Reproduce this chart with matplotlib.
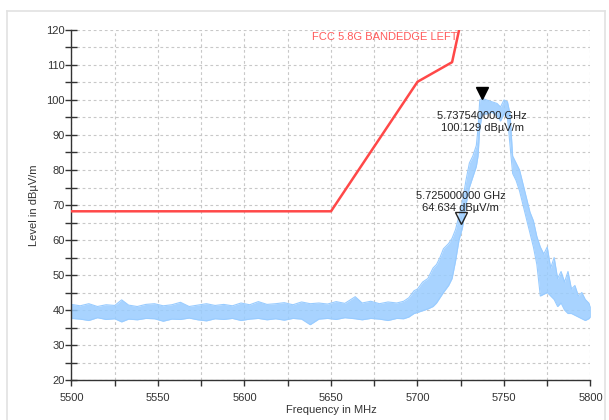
import numpy as np
import matplotlib.pyplot as plt
from matplotlib.lines import Line2D
from matplotlib.transforms import offset_copy

plt.rcParams['font.family'] = ['Liberation Sans', 'DejaVu Sans']

# limit line (FCC 5.8G band edge)
limit_f = [5500, 5650, 5700, 5720, 5725]
limit_lv = [68.2, 68.2, 105.2, 110.8, 122.2]

# measured trace, read as lower / upper envelope of the noisy band
trace_f = [5500, 5505, 5510, 5515, 5520, 5525, 5529, 5533, 5538, 5543,
           5548, 5553, 5558, 5563, 5568, 5573, 5578, 5583, 5588, 5593,
           5598, 5603, 5608, 5613, 5618, 5623, 5628, 5633, 5638, 5643,
           5648, 5653, 5658, 5664, 5668, 5673, 5678, 5683, 5688, 5692,
           5695, 5698, 5700, 5703, 5706, 5709, 5711, 5713, 5715, 5718,
           5720, 5722, 5724, 5726, 5728, 5730, 5732, 5734, 5735, 5736,
           5737.5, 5740, 5743, 5746, 5748, 5750, 5752, 5753.5, 5755, 5757,
           5759, 5761, 5763, 5765, 5767, 5769, 5771, 5773, 5775, 5777,
           5779, 5781, 5783, 5785, 5787, 5789, 5791, 5793, 5795, 5797,
           5799, 5800]
trace_lo = [37.6, 37.4, 37.0, 37.8, 37.3, 37.5, 36.6, 37.4, 37.2, 37.6,
            37.5, 36.8, 37.4, 37.3, 37.7, 37.2, 36.9, 37.5, 37.3, 37.6,
            37.0, 37.4, 37.6, 37.2, 37.5, 37.1, 37.6, 37.4, 35.8, 37.4,
            37.6, 37.3, 37.8, 37.5, 37.2, 37.6, 37.4, 37.0, 37.6, 37.5,
            38.0, 39.0, 39.3, 39.8, 40.3, 41.0, 42.0, 43.5, 45.0, 47.0,
            49.0, 54.0, 60.0, 63.5, 70.0, 75.0, 78.0, 81.0, 84.0, 92.0,
            96.0, 96.0, 96.5, 95.5, 94.0, 96.0, 95.0, 87.0, 79.0, 77.0,
            74.0, 70.0, 66.0, 62.0, 58.0, 53.0, 44.0, 44.5, 45.0, 44.0,
            43.0, 41.0, 42.0, 40.0, 39.0, 39.0, 38.5, 38.0, 37.5, 37.0,
            37.5, 38.0]
trace_hi = [41.6, 41.2, 41.8, 41.0, 41.5, 41.3, 42.9, 41.4, 41.0, 41.6,
            41.8, 41.2, 41.5, 42.2, 41.0, 41.4, 41.8, 41.3, 41.6, 41.2,
            42.0, 41.5, 42.4, 41.6, 41.8, 42.1, 41.5, 42.3, 41.8, 42.0,
            41.7, 42.4, 41.9, 43.8, 42.0, 42.5, 41.8, 42.3, 42.0, 42.5,
            43.5, 45.5, 46.0, 48.0, 49.0, 52.0, 53.0, 55.0, 57.5, 59.0,
            60.5, 63.0, 67.0, 71.0, 77.0, 82.0, 84.0, 87.0, 92.0, 100.0,
            100.5, 100.0, 99.5, 99.0, 98.0, 100.0, 99.5, 96.0, 84.0, 82.0,
            80.0, 76.0, 72.0, 68.0, 65.5, 61.0, 58.0, 56.0, 58.0, 52.0,
            55.0, 49.0, 51.0, 48.0, 51.0, 46.0, 47.0, 44.0, 45.0, 43.0,
            42.0, 41.0]

# markers
mk_f = [5737.54, 5725.0]
mk_lv = [100.129, 64.634]
mk_text = ['5.737540000 GHz\n100.129 dBµV/m', '5.725000000 GHz\n64.634 dBµV/m']

fig = plt.figure(figsize=(6.09, 4.20), dpi=100)
ax = fig.add_axes([0.1174, 0.0952, 0.8522, 0.8334])

# light frame around the whole chart
frame = '#e2e2e2'
fig.add_artist(Line2D([7/609, 605/609], [1 - 11/420, 1 - 11/420], color=frame, lw=1.2, transform=fig.transFigure))
fig.add_artist(Line2D([7/609, 7/609], [0, 1 - 11/420], color=frame, lw=1.2, transform=fig.transFigure))
fig.add_artist(Line2D([605/609, 605/609], [0, 1 - 11/420], color=frame, lw=1.2, transform=fig.transFigure))

blue = '#99ccff'
ax.fill_between(trace_f, trace_lo, trace_hi, color=blue, alpha=0.85, lw=0, zorder=2)
ax.plot(trace_f, trace_hi, color=blue, lw=0.8, zorder=2)
ax.plot(trace_f, trace_lo, color=blue, lw=0.8, zorder=2)

ax.plot(limit_f, limit_lv, color='#ff4848', lw=1.8, zorder=3, clip_on=True)
ax.text(5723, 118, 'FCC 5.8G BANDEDGE LEFT', color='#ff5a5a', fontsize=8,
        ha='right', va='center', zorder=4)

up = offset_copy(ax.transData, fig=fig, y=4.5, units='points')
ax.plot(mk_f[0], mk_lv[0], marker='v', ms=9, color='black', lw=0, transform=up, zorder=5, clip_on=False)
ax.plot(mk_f[1], mk_lv[1], marker='v', ms=9, mfc='none', mec='#222222', mew=1, lw=0, transform=up, zorder=5)
ax.text(5737.3, 96.8, mk_text[0], fontsize=8, ha='center', va='top', color='#222222', linespacing=1.25, zorder=6)
ax.text(5725, 67.6, mk_text[1], fontsize=8, ha='center', va='bottom', color='#222222', linespacing=1.25, zorder=6)

ax.set_xlim(5500, 5800)
ax.set_ylim(20, 120)
ax.set_xticks(np.arange(5500, 5801, 50))
ax.set_xticks(np.arange(5525, 5800, 50), minor=True)
ax.set_yticks(np.arange(20, 121, 10))
ax.set_yticks(np.arange(25, 120, 10), minor=True)
ax.grid(True, which='both', color='#c8c8c8', lw=0.8, ls=(0, (2.5, 2.5)), zorder=0)
ax.set_axisbelow(True)

for s in ['top', 'right']:
    ax.spines[s].set_visible(False)
for s in ['left', 'bottom']:
    ax.spines[s].set_color('#333333')
    ax.spines[s].set_linewidth(1)

ax.tick_params(axis='y', which='both', direction='inout', length=8, width=1, color='#333333',
               labelsize=8, labelcolor='#333333', pad=1)
ax.tick_params(axis='x', which='both', direction='out', length=4, width=1, color='#333333',
               labelsize=8, labelcolor='#333333', pad=5)

ax.set_xlabel('Frequency in MHz', fontsize=8, color='#333333', labelpad=2)
ax.set_ylabel('Level in dBµV/m', fontsize=8, color='#333333', labelpad=5)

fig.savefig('out.png', dpi=100)
